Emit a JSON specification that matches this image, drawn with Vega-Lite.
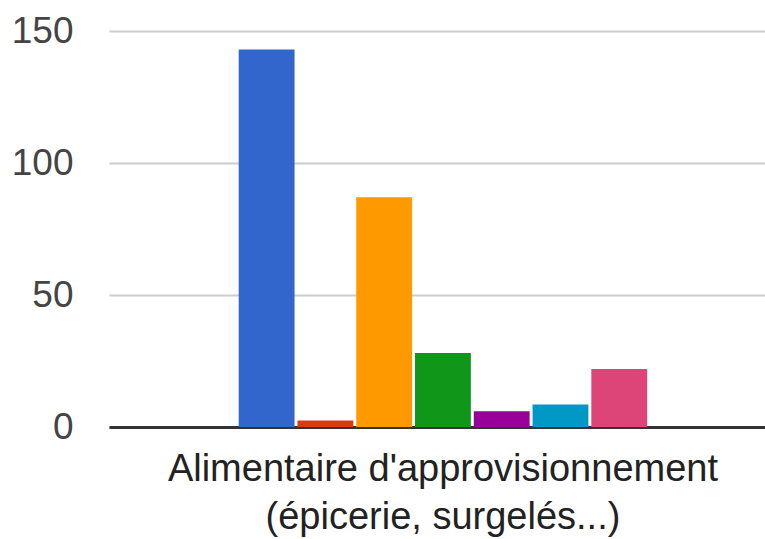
{
  "$schema": "https://vega.github.io/schema/vega-lite/v6.json",
  "autosize": {"type": "none"},
  "width": 656,
  "height": 396,
  "padding": {"left": 109, "top": 31, "right": 0, "bottom": 112},
  "background": "white",
  "data": {
    "values": [
      {"category": "Alimentaire d'approvisionnement (épicerie, surgelés...)", "series": "S1", "value": 143},
      {"category": "Alimentaire d'approvisionnement (épicerie, surgelés...)", "series": "S2", "value": 2.5},
      {"category": "Alimentaire d'approvisionnement (épicerie, surgelés...)", "series": "S3", "value": 87},
      {"category": "Alimentaire d'approvisionnement (épicerie, surgelés...)", "series": "S4", "value": 28},
      {"category": "Alimentaire d'approvisionnement (épicerie, surgelés...)", "series": "S5", "value": 6},
      {"category": "Alimentaire d'approvisionnement (épicerie, surgelés...)", "series": "S6", "value": 8.5},
      {"category": "Alimentaire d'approvisionnement (épicerie, surgelés...)", "series": "S7", "value": 22}
    ]
  },
  "config": {
    "view": {"stroke": null},
    "font": "Liberation Sans"
  },
  "mark": {"type": "bar"},
  "encoding": {
    "x": {
      "field": "category",
      "type": "nominal",
      "scale": {"paddingInner": 0, "paddingOuter": 0.303, "align": 0.524},
      "axis": {
        "title": null,
        "labelAngle": 0,
        "labelExpr": "[slice(datum.label, 0, indexof(datum.label, ' (')), slice(datum.label, indexof(datum.label, ' (') + 1)]",
        "labelFont": "Liberation Sans",
        "labelFontSize": 38,
        "labelColor": "#222222",
        "labelLineHeight": 48,
        "labelPadding": 23,
        "labelLimit": 0,
        "ticks": false,
        "domainColor": "#333333",
        "domainWidth": 3,
        "grid": false
      }
    },
    "xOffset": {
      "field": "series",
      "type": "nominal",
      "scale": {"paddingInner": 0.05, "paddingOuter": 0}
    },
    "y": {
      "field": "value",
      "type": "quantitative",
      "scale": {"domain": [0, 150], "nice": false},
      "axis": {
        "title": null,
        "values": [0, 50, 100, 150],
        "labelFont": "Liberation Sans",
        "labelFontSize": 37,
        "labelColor": "#444444",
        "labelPadding": 36,
        "labelBaseline": "middle",
        "ticks": false,
        "domain": false,
        "gridColor": "#cccccc",
        "gridWidth": 2
      }
    },
    "color": {
      "field": "series",
      "type": "nominal",
      "scale": {
        "domain": ["S1", "S2", "S3", "S4", "S5", "S6", "S7"],
        "range": ["#3366cc", "#dc3912", "#ff9900", "#109618", "#990099", "#0099c6", "#dd4477"]
      },
      "legend": null
    }
  }
}
